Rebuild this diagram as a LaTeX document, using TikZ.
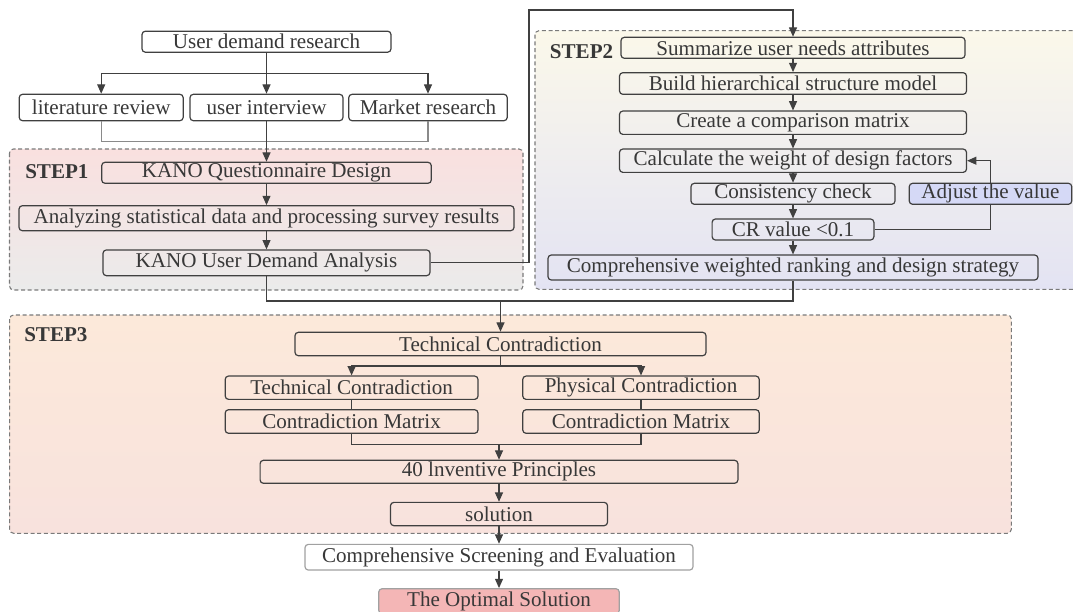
\documentclass[tikz,border=0pt]{standalone}
\usepackage{fontspec}
\setmainfont{Liberation Serif}
\usetikzlibrary{arrows.meta}
\definecolor{lc}{HTML}{404040}
\definecolor{tc}{HTML}{383838}
\definecolor{glc}{HTML}{8A8A8A}
\definecolor{dsh}{HTML}{7A7A7A}
\definecolor{sAt}{HTML}{F9E0DF}
\definecolor{sAb}{HTML}{EBEBEB}
\definecolor{sBt}{HTML}{FBF8EA}
\definecolor{sBb}{HTML}{E3E3F3}
\definecolor{sCt}{HTML}{FCE9DA}
\definecolor{sCb}{HTML}{F8E2DD}
\definecolor{adjc}{HTML}{D5D9F6}
\definecolor{optc}{HTML}{F4B6B6}
\newcommand\dgfont{\fontsize{15.8}{18}\selectfont}
\tikzset{
  bx/.style={draw=lc, rounded corners=2.5pt, line width=0.9pt, inner sep=0pt, text=tc, font=\dgfont},
  pw/.style={minimum width=#1*0.75pt},
  ph/.style={minimum height=#1*0.75pt},
  ln/.style={draw=lc, line width=0.9pt},
  gln/.style={draw=glc, line width=0.9pt},
  arr/.style={ln, -{Triangle[length=7pt,width=6pt]}},
  stepbg/.style={draw=dsh, line width=0.8pt, dash pattern=on 3pt off 2pt, rounded corners=3pt},
  steplab/.style={font=\dgfont\bfseries, text=tc, inner sep=0pt}
}
\begin{document}
\begin{tikzpicture}[x=0.75pt,y=-0.75pt]
\useasboundingbox (0,0) rectangle (1073,611);
% step backgrounds
\path[stepbg, top color=sAt, bottom color=sAb] (9.5,149) rectangle (523,290);
\path[stepbg, top color=sBt, bottom color=sBb] (535,30.7) rectangle (1090,289.3);
\path[stepbg, top color=sCt, bottom color=sCb] (9.6,315) rectangle (1011.3,533.3);
\node[steplab, anchor=west] (s1) at (25,172) {STEP1};
\node[steplab, anchor=west] (s2) at (549.7,52) {STEP2};
\node[steplab, anchor=west] (s3) at (24,335) {STEP3};
% top
\node[bx, fill=white, pw=249, ph=21] (udr) at (266.5,41.7) {User demand research};
\node[bx, fill=white, pw=164, ph=26.4] (lit) at (101.2,107.5) {literature review};
\node[bx, fill=white, pw=153, ph=26.4] (ui) at (266.5,107.5) {user interview};
\node[bx, fill=white, pw=158.5, ph=26.4] (mr) at (428,107.5) {Market research};
% step1
\node[bx, pw=329.6, ph=21] (kqd) at (266.5,172.8) {KANO Questionnaire Design};
\node[bx, pw=495, ph=25] (ana) at (266.5,218.2) {Analyzing statistical data and processing survey results};
\node[bx, pw=327, ph=25.7] (kuda) at (266.5,262.8) {KANO User Demand Analysis};
% step2
\node[bx, pw=344, ph=21] (sum) at (793,47.8) {Summarize user needs attributes};
\node[bx, pw=347, ph=21.6] (bhs) at (793,83.5) {Build hierarchical structure model};
\node[bx, pw=347, ph=23.3] (ccm) at (793,122.7) {Create a comparison matrix};
\node[bx, pw=347, ph=23.3] (cal) at (793,160.7) {Calculate the weight of design factors};
\node[bx, pw=204, ph=21] (cc) at (793,193.8) {Consistency check};
\node[bx, fill=adjc, pw=162.5, ph=21] (adj) at (990.5,193.8) {Adjust the value};
\node[bx, pw=161.8, ph=21] (cr) at (793,229.5) {CR value <0.1};
\node[bx, pw=490, ph=25] (cwr) at (793,267.5) {Comprehensive weighted ranking and design strategy};
% step3
\node[bx, pw=411, ph=23.4] (tc) at (500.5,344) {Technical Contradiction};
\node[bx, pw=252.8, ph=23.3] (tc2) at (351.6,387.7) {Technical Contradiction};
\node[bx, pw=236.5, ph=23.3] (pc) at (641,387.7) {Physical Contradiction};
\node[bx, pw=252.8, ph=23.6] (cm1) at (351.6,421.5) {Contradiction Matrix};
\node[bx, pw=236.5, ph=23.6] (cm2) at (641,421.5) {Contradiction Matrix};
\node[bx, pw=477.8, ph=23] (ip) at (499,471.8) {40 lnventive Principles};
\node[bx, pw=217, ph=23.3] (sol) at (499,514) {solution};
% bottom
\node[bx, draw=glc!80, fill=white, pw=388, ph=25.7] (cse) at (499,557.2) {Comprehensive Screening and Evaluation};
\node[bx, draw=glc!80, fill=optc, pw=240.5, ph=25] (opt) at (499,601.2) {The Optimal Solution};
% coordinates
\coordinate (b1) at (266.5,73.3);
\coordinate (b2) at (266.5,141.3);
\coordinate (c1) at (529,10);
\coordinate (j1) at (500.5,301);
\coordinate (j2) at (500.5,366);
\coordinate (j3) at (499,444.3);
% connectors top
\draw[ln] (udr.south) -- (b1);
\draw[arr] (b1) -| (lit.north);
\draw[arr] (b1) -| (mr.north);
\draw[arr] (b1) -- (ui.north);
\draw[gln] (lit.south) -- (lit.south |- b2) -- (mr.south |- b2) -- (mr.south);
\draw[arr] (ui.south) -- (kqd.north);
\draw[arr] (kqd) -- (ana);
\draw[arr] (ana) -- (kuda);
\draw[arr] (kuda.east) -- (kuda.east -| c1) -- (c1) -- (c1 -| sum.north) -- (sum.north);
% step2 chain
\draw[arr] (sum) -- (bhs);
\draw[arr] (bhs) -- (ccm);
\draw[arr] (ccm) -- (cal);
\draw[arr] (cal) -- (cc);
\draw[arr] (cc) -- (cr);
\draw[arr] (cr) -- (cwr);
\draw[ln] (cr.east) -| (adj.south);
\draw[arr] (adj.north) |- (cal.east);
% join to step3
\draw[ln] (kuda.south) -- (kuda.south |- j1) -- (cwr.south |- j1) -- (cwr.south);
\draw[arr] (j1) -- (tc.north);
\draw[ln] (tc.south) -- (j2);
\draw[arr] (j2) -| (tc2.north);
\draw[arr] (j2) -| (pc.north);
\draw[ln] (tc2) -- (cm1);
\draw[ln] (pc) -- (cm2);
\draw[ln] (cm1.south) -- (cm1.south |- j3) -- (cm2.south |- j3) -- (cm2.south);
\draw[arr] (j3) -- (ip.north);
\draw[arr] (ip) -- (sol);
\draw[arr] (sol) -- (cse);
\draw[arr] (cse) -- (opt);
\end{tikzpicture}
\end{document}
